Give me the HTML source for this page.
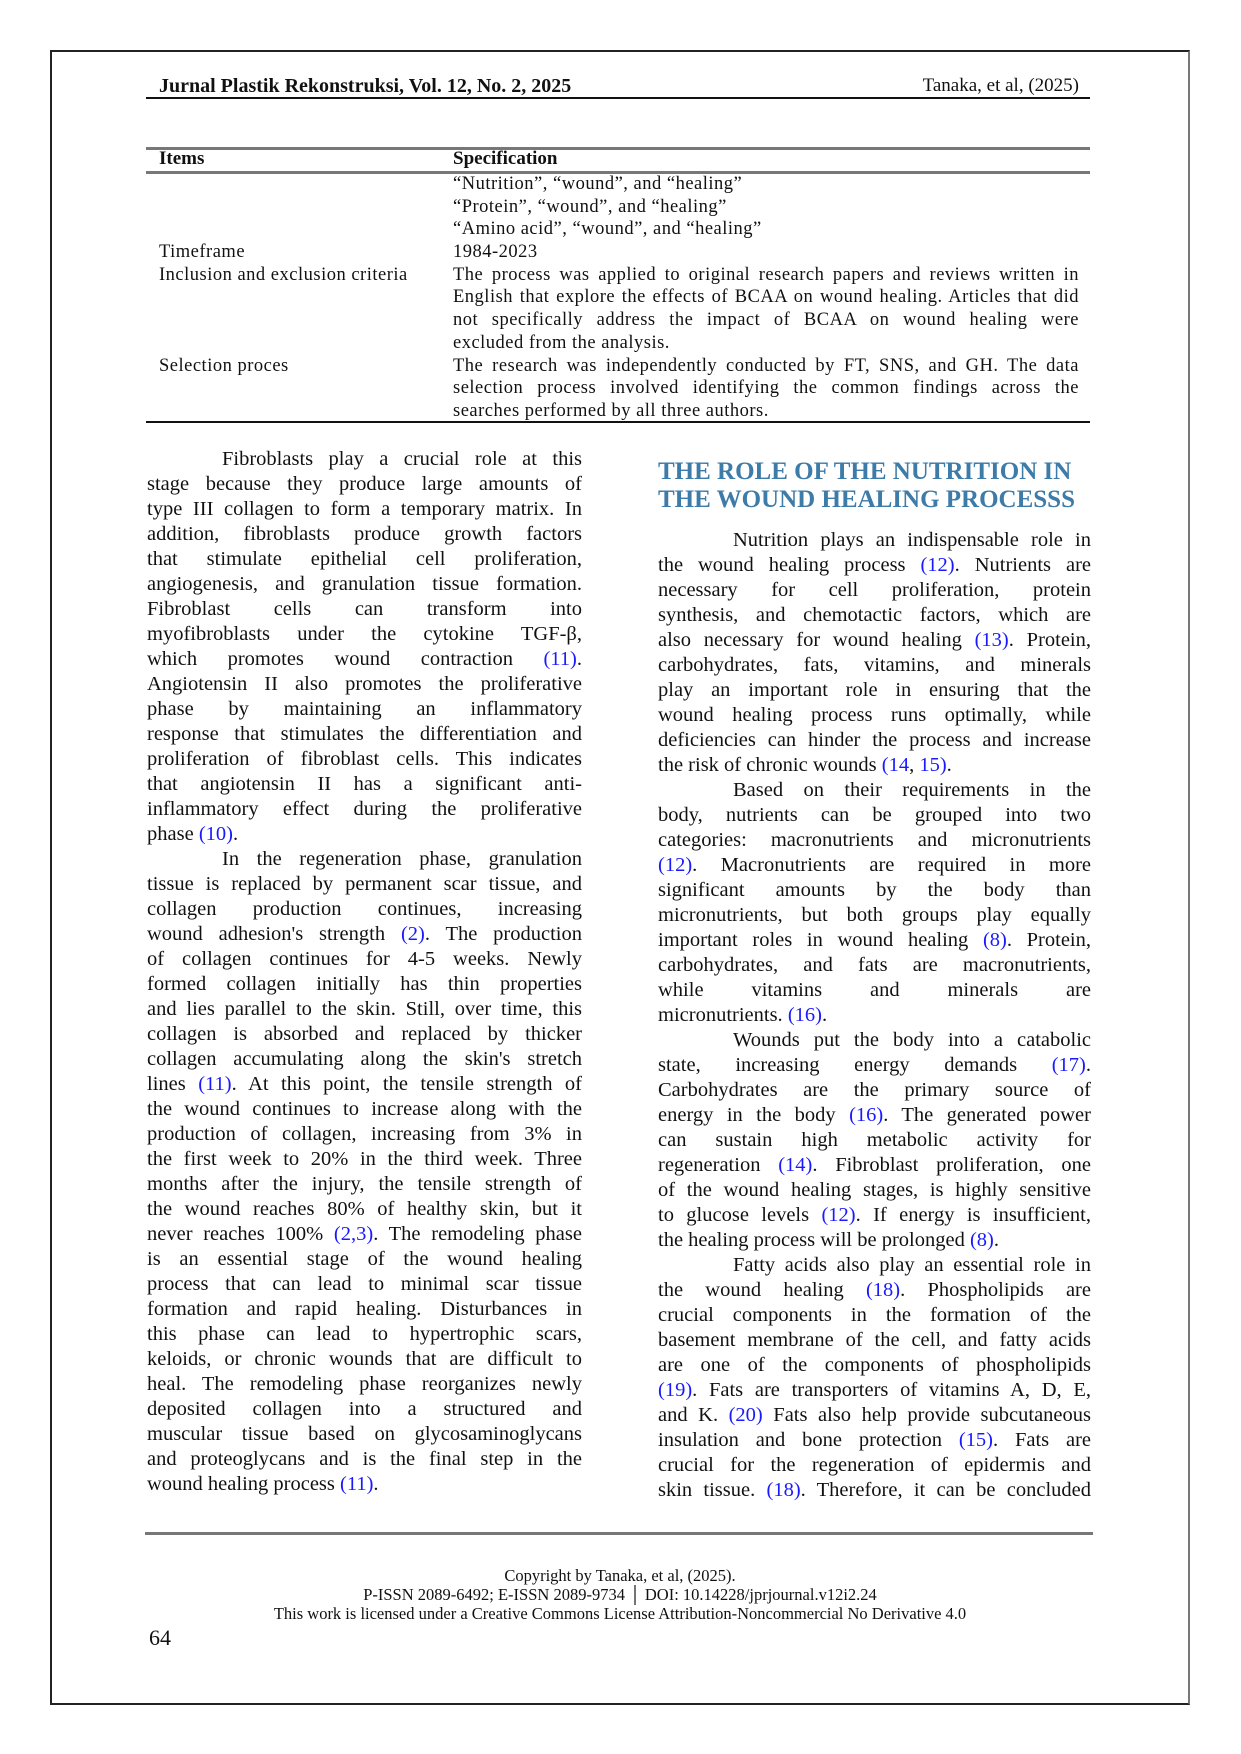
<!DOCTYPE html>
<html><head><meta charset="utf-8"><style>
body{margin:0;background:#fff;}
#pg{position:relative;width:1241px;height:1754px;overflow:hidden;font-family:"Liberation Serif",serif;color:#111;}
.a{position:absolute;white-space:nowrap;}
.col{position:absolute;font-size:20.5px;line-height:25px;}
.col div{white-space:nowrap;text-align:justify;text-align-last:justify;height:25px;}
.col div.l{text-align-last:left;}
.col div.i{padding-left:75px;}
.r{color:#1a1aff;}
.tb{position:absolute;font-size:18.5px;line-height:22.7px;letter-spacing:0.5px;}
.tb div{white-space:nowrap;height:22.7px;text-align:justify;text-align-last:justify;}
.tb div.l{text-align-last:left;}
</style></head><body><div id="pg">
<div class="a" style="left:50px;top:50px;width:1136px;height:1651px;border:2px solid #222;border-right-color:#777;"></div>
<div class="a" style="left:159px;top:75px;font-size:20px;line-height:22px;font-weight:bold;">Jurnal Plastik Rekonstruksi, Vol. 12, No. 2, 2025</div>
<div class="a" style="right:162px;top:75px;font-size:19px;line-height:22px;">Tanaka, et al, (2025)</div>
<div class="a" style="left:146px;top:97px;width:944px;height:2px;background:#111;"></div>

<div class="a" style="left:146px;top:147px;width:944px;height:3px;background:#777;"></div>
<div class="a" style="left:146px;top:171px;width:944px;height:3px;background:#777;"></div>
<div class="a" style="left:146px;top:421px;width:944px;height:2px;background:#111;"></div>
<div class="a" style="left:159px;top:148px;font-size:19px;line-height:22px;font-weight:bold;">Items</div>
<div class="a" style="left:453px;top:148px;font-size:19px;line-height:22px;font-weight:bold;">Specification</div>
<div class="tb" style="left:159px;top:173px;width:280px;">
<div></div><div></div><div></div><div class="l">Timeframe</div><div class="l">Inclusion and exclusion criteria</div><div></div><div></div><div></div><div class="l">Selection proces</div>
</div>
<div class="tb" style="left:453px;top:173px;width:626px;">
<div class="l">“Nutrition”, “wound”, and “healing”</div>
<div class="l">“Protein”, “wound”, and “healing”</div>
<div class="l">“Amino acid”, “wound”, and “healing”</div>
<div class="l">1984-2023</div>
<div>The process was applied to original research papers and reviews written in</div>
<div>English that explore the effects of BCAA on wound healing. Articles that did</div>
<div>not specifically address the impact of BCAA on wound healing were</div>
<div class="l">excluded from the analysis.</div>
<div>The research was independently conducted by FT, SNS, and GH. The data</div>
<div>selection process involved identifying the common findings across the</div>
<div class="l">searches performed by all three authors.</div>
</div>

<div class="col" style="left:147px;top:447px;width:435px;">
<div class="i">Fibroblasts play a crucial role at this</div>
<div>stage because they produce large amounts of</div>
<div>type III collagen to form a temporary matrix. In</div>
<div>addition, fibroblasts produce growth factors</div>
<div>that stimulate epithelial cell proliferation,</div>
<div>angiogenesis, and granulation tissue formation.</div>
<div>Fibroblast cells can transform into</div>
<div>myofibroblasts under the cytokine TGF-β,</div>
<div>which promotes wound contraction <span class="r">(11)</span>.</div>
<div>Angiotensin II also promotes the proliferative</div>
<div>phase by maintaining an inflammatory</div>
<div>response that stimulates the differentiation and</div>
<div>proliferation of fibroblast cells. This indicates</div>
<div>that angiotensin II has a significant anti-</div>
<div>inflammatory effect during the proliferative</div>
<div class="l">phase <span class="r">(10)</span>.</div>
<div class="i">In the regeneration phase, granulation</div>
<div>tissue is replaced by permanent scar tissue, and</div>
<div>collagen production continues, increasing</div>
<div>wound adhesion's strength <span class="r">(2)</span>. The production</div>
<div>of collagen continues for 4-5 weeks. Newly</div>
<div>formed collagen initially has thin properties</div>
<div>and lies parallel to the skin. Still, over time, this</div>
<div>collagen is absorbed and replaced by thicker</div>
<div>collagen accumulating along the skin's stretch</div>
<div>lines <span class="r">(11)</span>. At this point, the tensile strength of</div>
<div>the wound continues to increase along with the</div>
<div>production of collagen, increasing from 3% in</div>
<div>the first week to 20% in the third week. Three</div>
<div>months after the injury, the tensile strength of</div>
<div>the wound reaches 80% of healthy skin, but it</div>
<div>never reaches 100% <span class="r">(2,3)</span>. The remodeling phase</div>
<div>is an essential stage of the wound healing</div>
<div>process that can lead to minimal scar tissue</div>
<div>formation and rapid healing. Disturbances in</div>
<div>this phase can lead to hypertrophic scars,</div>
<div>keloids, or chronic wounds that are difficult to</div>
<div>heal. The remodeling phase reorganizes newly</div>
<div>deposited collagen into a structured and</div>
<div>muscular tissue based on glycosaminoglycans</div>
<div>and proteoglycans and is the final step in the</div>
<div class="l">wound healing process <span class="r">(11)</span>.</div>
</div>

<div class="a" style="left:658px;top:458px;font-size:25px;line-height:28px;font-weight:bold;color:#3d7ba8;">THE ROLE OF THE NUTRITION IN<br>THE WOUND HEALING PROCESSS</div>

<div class="col" style="left:658px;top:528px;width:433px;">
<div class="i">Nutrition plays an indispensable role in</div>
<div>the wound healing process <span class="r">(12)</span>. Nutrients are</div>
<div>necessary for cell proliferation, protein</div>
<div>synthesis, and chemotactic factors, which are</div>
<div>also necessary for wound healing <span class="r">(13)</span>. Protein,</div>
<div>carbohydrates, fats, vitamins, and minerals</div>
<div>play an important role in ensuring that the</div>
<div>wound healing process runs optimally, while</div>
<div>deficiencies can hinder the process and increase</div>
<div class="l">the risk of chronic wounds <span class="r">(14</span>, <span class="r">15)</span>.</div>
<div class="i">Based on their requirements in the</div>
<div>body, nutrients can be grouped into two</div>
<div>categories: macronutrients and micronutrients</div>
<div><span class="r">(12)</span>. Macronutrients are required in more</div>
<div>significant amounts by the body than</div>
<div>micronutrients, but both groups play equally</div>
<div>important roles in wound healing <span class="r">(8)</span>. Protein,</div>
<div>carbohydrates, and fats are macronutrients,</div>
<div>while vitamins and minerals are</div>
<div class="l">micronutrients. <span class="r">(16)</span>.</div>
<div class="i">Wounds put the body into a catabolic</div>
<div>state, increasing energy demands <span class="r">(17)</span>.</div>
<div>Carbohydrates are the primary source of</div>
<div>energy in the body <span class="r">(16)</span>. The generated power</div>
<div>can sustain high metabolic activity for</div>
<div>regeneration <span class="r">(14)</span>. Fibroblast proliferation, one</div>
<div>of the wound healing stages, is highly sensitive</div>
<div>to glucose levels <span class="r">(12)</span>. If energy is insufficient,</div>
<div class="l">the healing process will be prolonged <span class="r">(8)</span>.</div>
<div class="i">Fatty acids also play an essential role in</div>
<div>the wound healing <span class="r">(18)</span>. Phospholipids are</div>
<div>crucial components in the formation of the</div>
<div>basement membrane of the cell, and fatty acids</div>
<div>are one of the components of phospholipids</div>
<div><span class="r">(19)</span>. Fats are transporters of vitamins A, D, E,</div>
<div>and K. <span class="r">(20)</span> Fats also help provide subcutaneous</div>
<div>insulation and bone protection <span class="r">(15)</span>. Fats are</div>
<div>crucial for the regeneration of epidermis and</div>
<div>skin tissue. <span class="r">(18)</span>. Therefore, it can be concluded</div>
</div>

<div class="a" style="left:145px;top:1532px;width:948px;height:3px;background:#777;"></div>
<div class="a" style="left:50px;top:1566px;width:1140px;text-align:center;font-size:16.5px;line-height:19px;">Copyright by Tanaka, et al, (2025).<br>P-ISSN 2089-6492; E-ISSN 2089-9734 │ DOI: 10.14228/jprjournal.v12i2.24<br>This work is licensed under a Creative Commons License Attribution-Noncommercial No Derivative 4.0</div>
<div class="a" style="left:149px;top:1626px;font-size:22px;line-height:24px;">64</div>
</div></body></html>
